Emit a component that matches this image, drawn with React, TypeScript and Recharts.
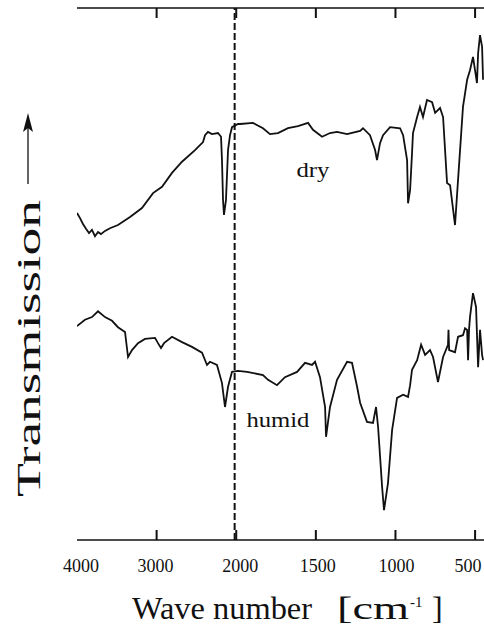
import React from "react";
import { LineChart, Line, XAxis, YAxis, ReferenceLine, ReferenceDot } from "recharts";

// wavenumber [cm-1] and transmission (arb. units, 0..100)
const dryWave = [
  4000, 3962, 3925, 3887, 3849, 3812, 3774, 3736, 3699, 3648,
  3586, 3485, 3334, 3184, 3045, 2932, 2807, 2681, 2518, 2417,
  2392, 2355, 2304, 2229, 2191, 2179, 2166, 2154, 2129, 2103,
  2078, 2053, 1989, 1976, 1895, 1832, 1788, 1738, 1675, 1612,
  1549, 1518, 1461, 1411, 1367, 1304, 1222, 1204, 1160, 1128,
  1116, 1097, 1078, 1034, 971, 952, 927, 921, 908, 896,
  890, 864, 846, 827, 802, 770, 751, 720, 701, 676,
  657, 626, 607, 576, 550, 532, 513, 488, 481, 469,
  456, 450,
];
const dryTrans = [
  61.5, 60.5, 59.4, 58.5, 57.7, 58.3, 57.1, 57.9, 57.5, 58.1,
  58.6, 59.2, 60.7, 62.4, 65.2, 66.4, 69.0, 71.1, 73.3, 74.8,
  76.1, 76.7, 76.3, 76.5, 75.8, 71.4, 63.9, 61.1, 63.9, 73.3,
  76.1, 77.6, 78.2, 78.2, 78.4, 77.4, 76.3, 76.5, 77.4, 77.8,
  78.4, 77.1, 75.8, 76.5, 76.7, 76.3, 76.9, 77.4, 76.1, 73.3,
  71.4, 74.6, 76.1, 77.6, 77.4, 76.1, 71.4, 63.3, 65.8, 72.7,
  76.5, 79.5, 81.4, 79.5, 82.7, 82.3, 80.3, 81.2, 79.5, 67.1,
  66.7, 59.2, 67.7, 81.4, 86.5, 88.3, 90.8, 85.9, 91.5, 94.9,
  92.7, 86.5,
];

const humidWave = [
  4000, 3900, 3812, 3736, 3648, 3560, 3485, 3397, 3359, 3309,
  3234, 3146, 3020, 2983, 2945, 2907, 2807, 2681, 2556, 2430,
  2367, 2330, 2242, 2179, 2141, 2103, 2053, 1989, 1932, 1832,
  1800, 1744, 1694, 1618, 1568, 1524, 1505, 1474, 1442, 1436,
  1411, 1367, 1304, 1273, 1241, 1222, 1179, 1141, 1122, 1109,
  1084, 1072, 1047, 1021, 990, 952, 921, 908, 896, 864,
  839, 814, 783, 764, 733, 701, 670, 667, 663, 626,
  607, 576, 563, 550, 544, 538, 532, 513, 494, 481,
  469, 456, 450,
];
const humidTrans = [
  40.2, 41.4, 41.9, 43.0, 41.9, 41.2, 40.0, 39.1, 34.4, 35.7,
  37.0, 37.8, 38.0, 37.0, 36.1, 37.0, 38.2, 37.2, 36.3, 35.2,
  32.9, 33.5, 32.9, 29.5, 25.0, 28.8, 31.6, 31.8, 31.6, 31.0,
  30.1, 29.1, 30.6, 31.6, 33.3, 32.9, 33.5, 30.6, 25.0, 19.4,
  25.0, 30.1, 33.5, 33.3, 28.8, 25.8, 22.2, 22.0, 25.0, 21.2,
  10.0, 5.6, 10.7, 20.7, 26.7, 27.3, 26.9, 29.1, 32.0, 33.8,
  36.7, 34.8, 35.7, 34.4, 29.7, 34.4, 36.7, 39.5, 35.7, 35.3,
  38.2, 38.5, 39.8, 39.5, 33.8, 39.5, 41.9, 46.4, 43.8, 32.5,
  39.5, 34.8, 33.8,
];

const tickWaves = [4000, 3000, 2000, 1500, 1000, 500];
const tickLabels = ["4000", "3000", "2000", "1500", "1000", "500"];
const tickNudge = [4, -1, 4, 2, 1, -7];
const markerWave = 2020;

// spectrometer halves the scale below 2000 cm-1
const toU = (w: number) => (w >= 2000 ? (4000 - w) / 2 : 1000 + (2000 - w));

const dryData = dryWave.map((w, i) => ({ u: toU(w), t: dryTrans[i] }));
const humidData = humidWave.map((w, i) => ({ u: toU(w), t: humidTrans[i] }));
const xDomain = [0, toU(444)];
const xTicks = tickWaves.map(toU);

const INK = "#111";
const FONT = "'Liberation Serif', 'Times New Roman', serif";
const PLOT = { left: 77, top: 8, width: 407, height: 532 };
const uToPx = (u: number) => PLOT.left + (u / xDomain[1]) * PLOT.width;

function BottomTick(props: any) {
  const x = Number(props.x);
  const i = Number(props.index);
  return (
    <text x={x + tickNudge[i]} y={PLOT.top + PLOT.height + 32} textAnchor="middle" fontSize={18}
      fontFamily={FONT} fill={INK}>
      {tickLabels[i]}
    </text>
  );
}

function CurveLabel(props: any) {
  const { viewBox, text, len } = props;
  if (!viewBox) return null;
  const cx = viewBox.x + viewBox.width / 2;
  const cy = viewBox.y + viewBox.height / 2;
  return (
    <text x={cx} y={cy} textAnchor="middle" fontSize={20} fontFamily={FONT} fill={INK}
      textLength={len} lengthAdjust="spacingAndGlyphs">
      {text}
    </text>
  );
}

export default function App() {
  const bottomY = PLOT.top + PLOT.height;
  return (
    <div style={{ position: "absolute", left: 0, top: 0, width: 484, height: 625, background: "#fff" }}>
      <LineChart width={484} height={625}
        margin={{ top: PLOT.top, right: 0, bottom: 0, left: PLOT.left }}>
        <XAxis xAxisId="bottom" orientation="bottom" type="number" dataKey="u" domain={xDomain}
          ticks={xTicks} interval={0} height={625 - PLOT.top - PLOT.height} tickSize={0} tickMargin={0}
          tick={(p: any) => <BottomTick {...p} />} tickLine={false}
          axisLine={{ stroke: INK, strokeWidth: 1.3 }} allowDataOverflow />
        <YAxis type="number" domain={[0, 100]} width={0} tick={false} tickLine={false}
          axisLine={{ stroke: INK, strokeWidth: 1.3 }} allowDataOverflow />
        <ReferenceLine xAxisId="bottom" y={100} stroke={INK} strokeWidth={1.3} />
        <ReferenceLine xAxisId="bottom" x={toU(markerWave)} stroke={INK} strokeWidth={2}
          strokeDasharray="7 3" />
        <Line xAxisId="bottom" data={dryData} dataKey="t" type="linear" stroke={INK}
          strokeWidth={1.8} dot={false} isAnimationActive={false} />
        <Line xAxisId="bottom" data={humidData} dataKey="t" type="linear" stroke={INK}
          strokeWidth={1.8} dot={false} isAnimationActive={false} />
        <ReferenceDot xAxisId="bottom" x={toU(1518)} y={68.2} r={1} fill="none" stroke="none"
          label={<CurveLabel text="dry" len={33} />} />
        <ReferenceDot xAxisId="bottom" x={toU(1738)} y={21.2} r={1} fill="none" stroke="none"
          label={<CurveLabel text="humid" len={63} />} />
      </LineChart>
      <svg width={484} height={625} style={{ position: "absolute", left: 0, top: 0, pointerEvents: "none" }}>
        {/* inward frame ticks, top and bottom */}
        {xTicks.slice(1).map((u) => (
          <g key={u}>
            <line x1={uToPx(u)} y1={PLOT.top} x2={uToPx(u)} y2={PLOT.top + 10} stroke={INK} strokeWidth={2} />
            <line x1={uToPx(u)} y1={bottomY} x2={uToPx(u)} y2={bottomY - 10} stroke={INK} strokeWidth={2} />
          </g>
        ))}
        <text transform="translate(40,497) rotate(-90)" fontSize={33} fontFamily={FONT} fill={INK}
          textLength={297} lengthAdjust="spacingAndGlyphs">
          Transmission
        </text>
        <line x1={28} y1={184} x2={28} y2={126} stroke={INK} strokeWidth={1.3} />
        <polygon points="28,113 23,132 28,128 33,132" fill={INK} />
        <text x={132} y={619} fontSize={32} fontFamily={FONT} fill={INK}
          textLength={180} lengthAdjust="spacingAndGlyphs">
          Wave number
        </text>
        <text x={337} y={619} fontSize={32} fontFamily={FONT} fill={INK}
          textLength={72} lengthAdjust="spacingAndGlyphs">
          [cm
        </text>
        <text x={410} y={607} fontSize={15} fontFamily={FONT} fill={INK}>-1</text>
        <text x={432} y={619} fontSize={32} fontFamily={FONT} fill={INK}>]</text>
      </svg>
    </div>
  );
}
